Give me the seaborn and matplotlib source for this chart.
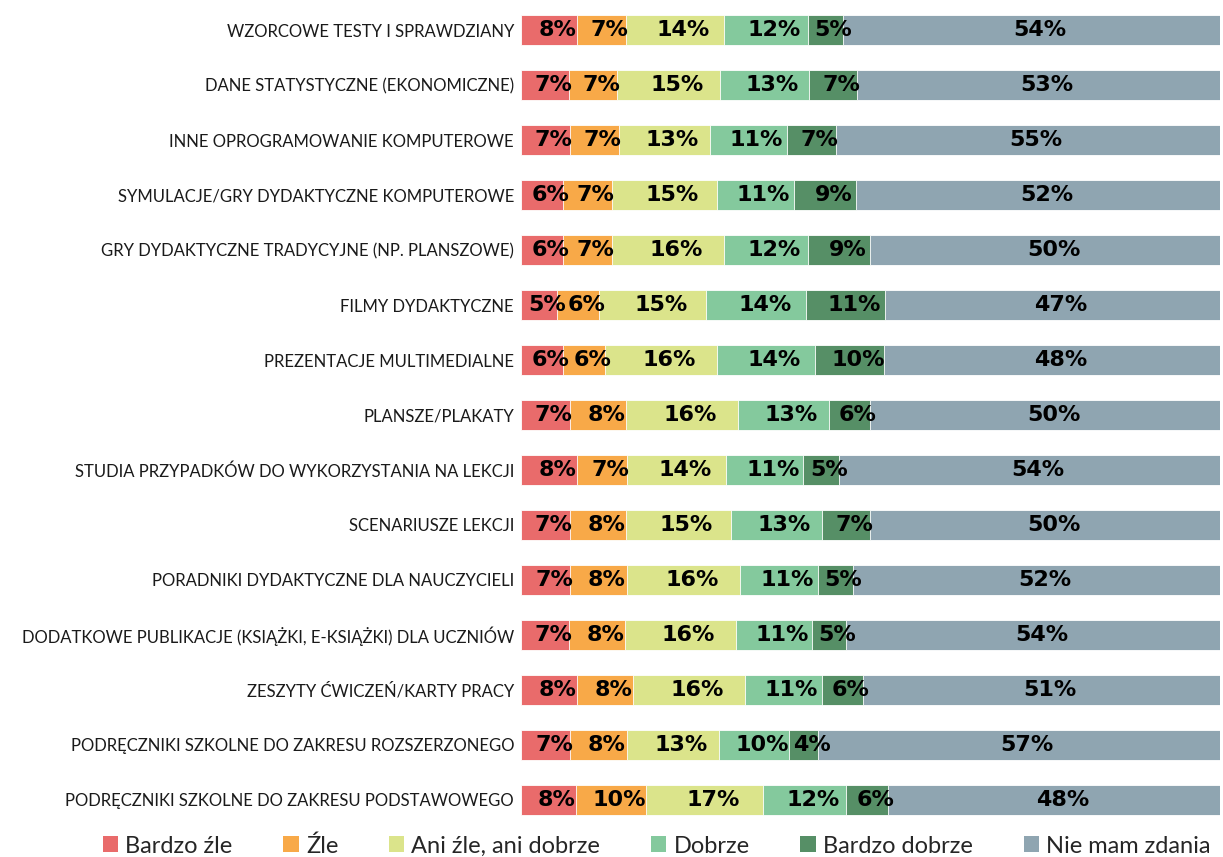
import matplotlib
import matplotlib.pyplot as plt
import numpy as np
import pandas as pd
import seaborn as sns
from matplotlib.patches import Patch

matplotlib.use("Agg")

CATEGORIES = [
    "WZORCOWE TESTY I SPRAWDZIANY",
    "DANE STATYSTYCZNE (EKONOMICZNE)",
    "INNE OPROGRAMOWANIE KOMPUTEROWE",
    "SYMULACJE/GRY DYDAKTYCZNE KOMPUTEROWE",
    "GRY DYDAKTYCZNE TRADYCYJNE (NP. PLANSZOWE)",
    "FILMY DYDAKTYCZNE",
    "PREZENTACJE MULTIMEDIALNE",
    "PLANSZE/PLAKATY",
    "STUDIA PRZYPADKÓW DO WYKORZYSTANIA NA LEKCJI",
    "SCENARIUSZE LEKCJI",
    "PORADNIKI DYDAKTYCZNE DLA NAUCZYCIELI",
    "DODATKOWE PUBLIKACJE (KSIĄŻKI, E-KSIĄŻKI) DLA UCZNIÓW",
    "ZESZYTY ĆWICZEŃ/KARTY PRACY",
    "PODRĘCZNIKI SZKOLNE DO ZAKRESU ROZSZERZONEGO",
    "PODRĘCZNIKI SZKOLNE DO ZAKRESU PODSTAWOWEGO",
]
SERIES = ["Bardzo źle", "Źle", "Ani źle, ani dobrze", "Dobrze", "Bardzo dobrze", "Nie mam zdania"]
COLORS = ["#e96b6b", "#f8a948", "#dbe48b", "#84c99d", "#568f66", "#8fa5b1"]

bardzo_zle = [8, 7, 7, 6, 6, 5, 6, 7, 8, 7, 7, 7, 8, 7, 8]
zle = [7, 7, 7, 7, 7, 6, 6, 8, 7, 8, 8, 8, 8, 8, 10]
ani = [14, 15, 13, 15, 16, 15, 16, 16, 14, 15, 16, 16, 16, 13, 17]
dobrze = [12, 13, 11, 11, 12, 14, 14, 13, 11, 13, 11, 11, 11, 10, 12]
bardzo_dobrze = [5, 7, 7, 9, 9, 11, 10, 6, 5, 7, 5, 5, 6, 4, 6]
nie_mam = [54, 53, 55, 52, 50, 47, 48, 50, 54, 50, 52, 54, 51, 57, 48]

values = pd.DataFrame(
    dict(zip(SERIES, [bardzo_zle, zle, ani, dobrze, bardzo_dobrze, nie_mam])),
    index=CATEGORIES,
)
# rows are rounded in the source, scale each row to 100% for bar widths
shares = values.div(values.sum(axis=1), axis=0) * 100
cumulative = shares.cumsum(axis=1)

sns.set_style("white")
label_font = ["Lato", "DejaVu Sans"]

fig = plt.figure(figsize=(12.23, 8.57), dpi=100)
ax = fig.add_axes([0.426, 0.0345, 0.5715, 0.9625])

# draw cumulative totals from the right-most series back, so each bar covers the next
for series, color in reversed(list(zip(SERIES, COLORS))):
    plot_df = pd.DataFrame({"category": CATEGORIES, "value": cumulative[series].values})
    sns.barplot(data=plot_df, x="value", y="category", orient="h", color=color,
                width=0.55, ax=ax, saturation=1, edgecolor="white", linewidth=0.6)

for row, category in enumerate(CATEGORIES):
    left = 0
    for series in SERIES:
        width = shares.loc[category, series]
        ax.annotate(f"{values.loc[category, series]}%", (left + width / 2, row),
                    xytext=(6, 0), textcoords="offset points", ha="center", va="center",
                    fontsize=16, fontweight="bold", family="DejaVu Sans", color="black")
        left += width

ax.set_xlim(0, 100)
ax.set_ylim(len(CATEGORIES) - 0.5, -0.5)
ax.set_xlabel("")
ax.set_ylabel("")
ax.set_xticks([])
ax.tick_params(axis="y", length=0, pad=5)
for tick in ax.get_yticklabels():
    tick.set_family(label_font)
    tick.set_fontsize(12)
    tick.set_fontweight("normal")
    tick.set_color("#1a1a1a")
sns.despine(ax=ax, left=True, bottom=True)

handles = [Patch(facecolor=c, edgecolor="none", label=s) for s, c in zip(SERIES, COLORS)]
fig.legend(handles=handles, loc="center", bbox_to_anchor=(0.537, 0.013), ncol=6,
           frameon=False, prop={"family": label_font, "size": 17},
           handlelength=0.65, handleheight=0.65, handletextpad=0.3, columnspacing=2.15,
           borderpad=0.1)

fig.savefig("out.png", dpi=100)
